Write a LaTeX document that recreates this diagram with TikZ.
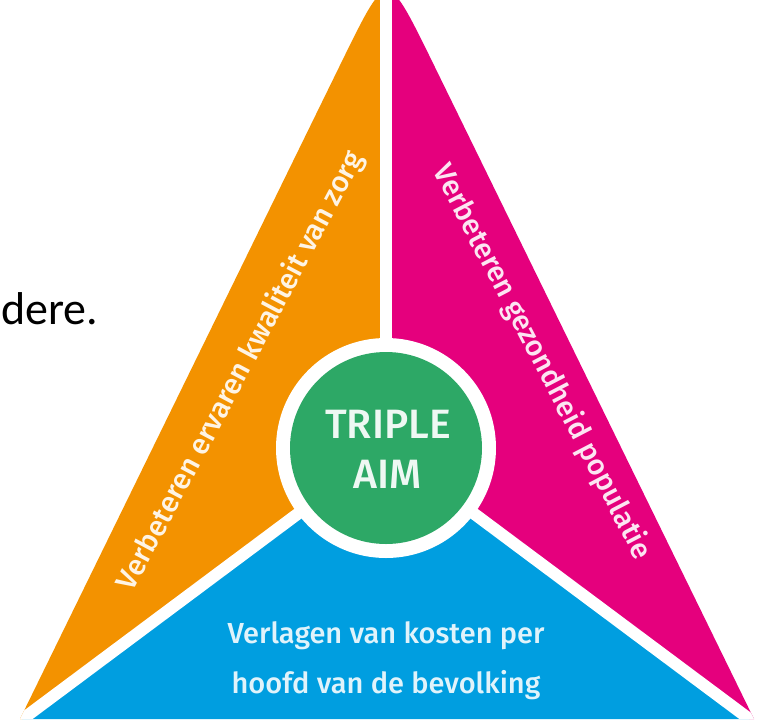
\documentclass[tikz,border=0pt]{standalone}
\usepackage{fontspec}
\setmainfont{Carlito}
\newfontfamily\aimfont{Fira Sans Medium}
\usepackage{tikz}
\usetikzlibrary{positioning}

\definecolor{aimorange}{HTML}{F39200}
\definecolor{aimmagenta}{HTML}{E5007D}
\definecolor{aimblue}{HTML}{009EE0}
\definecolor{aimgreen}{HTML}{2DA866}

\begin{document}
\begin{tikzpicture}[x=1pt, y=-1pt]
      \tikzstyle{every node}=[inner sep=0pt]
      \tikzstyle{gap}=[draw=white, line width=12pt]
      \tikzstyle{aim text}=[font=\aimfont\fontsize{29}{36}\selectfont]
      \useasboundingbox (0,0) rectangle (764,724);
      \coordinate (O) at (386,448);
      \coordinate (apex) at (387,-30);
      \coordinate (left) at (20,719);
      \coordinate (right) at (754,719);
      \coordinate (up) at (386,-100);
      \coordinate (downleft) at (-322,976);
      \coordinate (downright) at (1094,976);
      % the three parts of the triangle
      \begin{scope}
        \clip (left) -- (345,55) .. controls (apex) .. (429,55) -- (right) -- cycle;
        \fill [aimorange] (O) -- (up) -- (-400,-100) -- (downleft) -- cycle;
        \fill [aimmagenta] (O) -- (up) -- (1200,-100) -- (downright) -- cycle;
        \fill [aimblue] (O) -- (downleft) -- (downright) -- cycle;
        \draw [gap] (O) -- (up);
        \draw [gap] (O) -- (downleft);
        \draw [gap] (O) -- (downright);
      \end{scope}
      \fill [white] (O) circle (110pt);
      \node [circle, fill=aimgreen, minimum size=192pt] (aim) at (O) {};
      \node [aim text, font=\aimfont\fontsize{41}{50}\selectfont, text=aimgreen!8!white, anchor=base] (triple) at (388,438) {TRIPLE};
      \node [aim text, font=\aimfont\fontsize{41}{50}\selectfont, text=aimgreen!8!white, anchor=base] (aimword) at (388,488) {AIM};
      \node [aim text, text=aimorange!10!white, rotate=62] (quality) at (241,371) {Verbeteren ervaren kwaliteit van zorg};
      \node [aim text, text=aimmagenta!10!white, rotate=-62.5] (health) at (542,362) {Verbeteren gezondheid populatie};
      \node [aim text, text=aimblue!12!white, anchor=base] (costs) at (386,643) {Verlagen van kosten per};
      \node [aim text, text=aimblue!12!white, anchor=base] (capita) at (386,693) {hoofd van de bevolking};
      \node [font=\fontsize{46}{55}\selectfont, anchor=base west] (dere) at (1,324) {dere.};
\end{tikzpicture}
\end{document}
